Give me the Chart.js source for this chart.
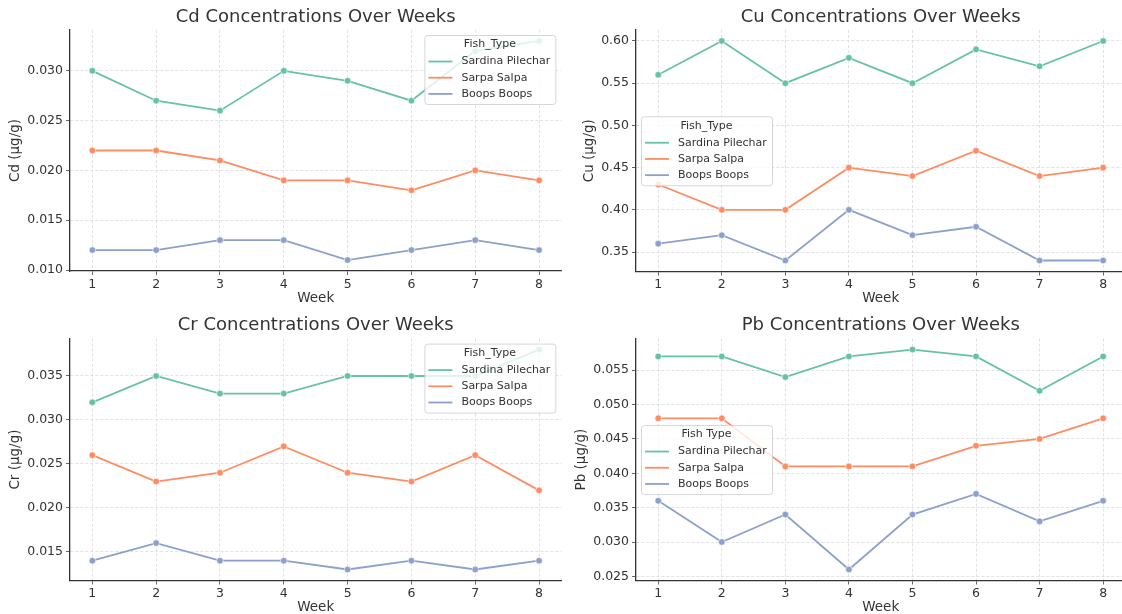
<!DOCTYPE html>
<html>
<head>
<meta charset="utf-8">
<script src="https://cdn.jsdelivr.net/npm/chart.js@4.4.1/dist/chart.umd.min.js"></script>
<style>
  html, body { margin: 0; padding: 0; background: #ffffff; }
  body { width: 1122px; height: 614px; overflow: hidden; position: relative; }
  canvas { position: absolute; }
</style>
</head>
<body>
<canvas id="cd" width="566" height="310" style="left:0;top:0"></canvas>
<canvas id="cu" width="560" height="310" style="left:570px;top:0"></canvas>
<canvas id="cr" width="566" height="306" style="left:0;top:308px"></canvas>
<canvas id="pb" width="560" height="306" style="left:570px;top:308px"></canvas>
<script>
// Weekly metal concentrations (µg/g) for three fish species
const weeks = [1, 2, 3, 4, 5, 6, 7, 8];
const fishTypes = ['Sardina Pilechar', 'Sarpa Salpa', 'Boops Boops'];

const cdSardina = [0.030, 0.027, 0.026, 0.030, 0.029, 0.027, 0.032, 0.033];
const cdSarpa   = [0.022, 0.022, 0.021, 0.019, 0.019, 0.018, 0.020, 0.019];
const cdBoops   = [0.012, 0.012, 0.013, 0.013, 0.011, 0.012, 0.013, 0.012];

const cuSardina = [0.56, 0.60, 0.55, 0.58, 0.55, 0.59, 0.57, 0.60];
const cuSarpa   = [0.43, 0.40, 0.40, 0.45, 0.44, 0.47, 0.44, 0.45];
const cuBoops   = [0.36, 0.37, 0.34, 0.40, 0.37, 0.38, 0.34, 0.34];

const crSardina = [0.032, 0.035, 0.033, 0.033, 0.035, 0.035, 0.035, 0.038];
const crSarpa   = [0.026, 0.023, 0.024, 0.027, 0.024, 0.023, 0.026, 0.022];
const crBoops   = [0.014, 0.016, 0.014, 0.014, 0.013, 0.014, 0.013, 0.014];

const pbSardina = [0.057, 0.057, 0.054, 0.057, 0.058, 0.057, 0.052, 0.057];
const pbSarpa   = [0.048, 0.048, 0.041, 0.041, 0.041, 0.044, 0.045, 0.048];
const pbBoops   = [0.036, 0.030, 0.034, 0.026, 0.034, 0.037, 0.033, 0.036];

// y tick labels for each panel
const cdTicks = [0.010, 0.015, 0.020, 0.025, 0.030];
const cuTicks = [0.35, 0.40, 0.45, 0.50, 0.55, 0.60];
const crTicks = [0.015, 0.020, 0.025, 0.030, 0.035];
const pbTicks = [0.025, 0.030, 0.035, 0.040, 0.045, 0.050, 0.055];

const palette = ['#66c2a5', '#fc8d62', '#8da0cb'];
const FONT = "'DejaVu Sans', 'Liberation Sans', sans-serif";
const TEXT = '#333333';

// Titles, axis labels and a matplotlib-style legend drawn on the canvas
const decorations = {
  id: 'decorations',
  afterDatasetsDraw(chart, args, o) {
    const ctx = chart.ctx;
    const a = chart.chartArea;
    const items = chart.data.datasets;
    ctx.save();
    ctx.font = '11px ' + FONT;
    let maxW = ctx.measureText(o.legendTitle).width;
    items.forEach(d => { maxW = Math.max(maxW, 37 + ctx.measureText(d.label).width); });
    const w = Math.round(maxW + 5), h = 69;
    let x, y;
    if (o.legendLoc === 'upper right') {
      x = a.right - 6 - w; y = a.top + 5;
    } else {
      x = a.left + 5; y = (a.top + a.bottom) / 2 - h / 2;
    }
    ctx.beginPath();
    ctx.roundRect(x + 0.5, y + 0.5, w, h, 3);
    ctx.fillStyle = 'rgba(255,255,255,0.8)';
    ctx.fill();
    ctx.strokeStyle = 'rgba(204,204,204,0.8)';
    ctx.lineWidth = 1;
    ctx.stroke();
    ctx.fillStyle = TEXT;
    ctx.textBaseline = 'middle';
    ctx.textAlign = 'center';
    ctx.fillText(o.legendTitle, x + w / 2, y + 9.5);
    ctx.textAlign = 'left';
    items.forEach((d, i) => {
      const yy = y + 26.5 + i * 16.2;
      ctx.strokeStyle = d.borderColor;
      ctx.lineWidth = 1.8;
      ctx.beginPath();
      ctx.moveTo(x + 4, yy);
      ctx.lineTo(x + 28, yy);
      ctx.stroke();
      ctx.fillStyle = TEXT;
      ctx.fillText(d.label, x + 37, yy);
    });
    ctx.restore();
  },
  afterDraw(chart, args, o) {
    const ctx = chart.ctx;
    const a = chart.chartArea;
    const cx = (a.left + a.right) / 2;
    ctx.save();
    ctx.fillStyle = TEXT;
    ctx.textAlign = 'center';
    ctx.textBaseline = 'middle';
    ctx.font = '18px ' + FONT;
    ctx.fillText(o.title, cx, a.top - 13);
    ctx.font = '13.5px ' + FONT;
    ctx.fillText('Week', cx, a.bottom + 27);
    // y label sits just left of the widest tick label
    ctx.font = '12.5px ' + FONT;
    let tw = 0;
    chart.scales.y.ticks.forEach(t => { tw = Math.max(tw, ctx.measureText(t.label).width); });
    const lx = a.left - 7 - tw - 11.5;
    ctx.font = '13.5px ' + FONT;
    ctx.translate(lx, (a.top + a.bottom) / 2);
    ctx.rotate(-Math.PI / 2);
    ctx.fillText(o.ylabel, 0, 0);
    ctx.restore();
  }
};

function pad5(values) {
  const lo = Math.min(...values), hi = Math.max(...values);
  const m = (hi - lo) * 0.05;
  return [lo - m, hi + m];
}

function makeChart(id, cfg) {
  const canvas = document.getElementById(id);
  const [ymin, ymax] = pad5([].concat(...cfg.series));
  const datasets = cfg.series.map((vals, i) => ({
    label: fishTypes[i],
    data: weeks.map((w, k) => ({ x: w, y: vals[k] })),
    borderColor: palette[i],
    backgroundColor: palette[i],
    borderWidth: 1.8,
    pointRadius: 3.3,
    pointBackgroundColor: palette[i],
    pointBorderColor: '#ffffff',
    pointBorderWidth: 0.6,
    tension: 0
  }));
  const gridCommon = {
    color: '#dadada',
    lineWidth: 0.8,
    drawTicks: true,
    tickLength: 4,
    tickColor: '#666666',
    tickWidth: 1,
    tickBorderDash: []
  };
  const borderCommon = { display: true, color: '#333333', width: 1.3, dash: [3, 2] };
  return new Chart(canvas, {
    type: 'line',
    data: { datasets },
    plugins: [decorations],
    options: {
      responsive: false,
      animation: false,
      devicePixelRatio: 1,
      layout: { padding: { top: cfg.padTop, right: cfg.padRight, left: 0, bottom: 0 } },
      plugins: {
        legend: { display: false },
        tooltip: { enabled: false },
        decorations: {
          title: cfg.title,
          ylabel: cfg.ylabel,
          legendTitle: cfg.legendTitle,
          legendLoc: cfg.legendLoc
        }
      },
      scales: {
        x: {
          type: 'linear',
          position: 'bottom',
          min: 0.65,
          max: 8.35,
          afterBuildTicks: s => { s.ticks = weeks.map(v => ({ value: v })); },
          afterFit: s => { s.height = cfg.xHeight; },
          ticks: {
            color: TEXT,
            font: { family: FONT, size: 12.5 },
            padding: 2,
            maxRotation: 0,
            autoSkip: false,
            callback: v => String(v)
          },
          grid: gridCommon,
          border: borderCommon
        },
        y: {
          type: 'linear',
          min: ymin,
          max: ymax,
          afterBuildTicks: s => { s.ticks = cfg.ticks.map(v => ({ value: v })); },
          afterFit: s => { s.width = cfg.yWidth; },
          ticks: {
            color: TEXT,
            font: { family: FONT, size: 12.5 },
            padding: 3,
            autoSkip: false,
            callback: v => Number(v).toFixed(cfg.decimals)
          },
          grid: gridCommon,
          border: borderCommon
        }
      }
    }
  });
}

makeChart('cd', {
  series: [cdSardina, cdSarpa, cdBoops], ticks: cdTicks, decimals: 3,
  title: 'Cd Concentrations Over Weeks', ylabel: 'Cd (µg/g)',
  legendTitle: 'Fish_Type', legendLoc: 'upper right',
  padTop: 30, padRight: 3.6, yWidth: 70, xHeight: 39
});
makeChart('cu', {
  series: [cuSardina, cuSarpa, cuBoops], ticks: cuTicks, decimals: 2,
  title: 'Cu Concentrations Over Weeks', ylabel: 'Cu (µg/g)',
  legendTitle: 'Fish_Type', legendLoc: 'center left',
  padTop: 30, padRight: 3.7, yWidth: 66, xHeight: 38.5
});
makeChart('cr', {
  series: [crSardina, crSarpa, crBoops], ticks: crTicks, decimals: 3,
  title: 'Cr Concentrations Over Weeks', ylabel: 'Cr (µg/g)',
  legendTitle: 'Fish_Type', legendLoc: 'upper right',
  padTop: 30.6, padRight: 3.6, yWidth: 70, xHeight: 33.5
});
makeChart('pb', {
  series: [pbSardina, pbSarpa, pbBoops], ticks: pbTicks, decimals: 3,
  title: 'Pb Concentrations Over Weeks', ylabel: 'Pb (µg/g)',
  legendTitle: 'Fish Type', legendLoc: 'center left',
  padTop: 30.6, padRight: 3.7, yWidth: 66, xHeight: 33.5
});
</script>
</body>
</html>
